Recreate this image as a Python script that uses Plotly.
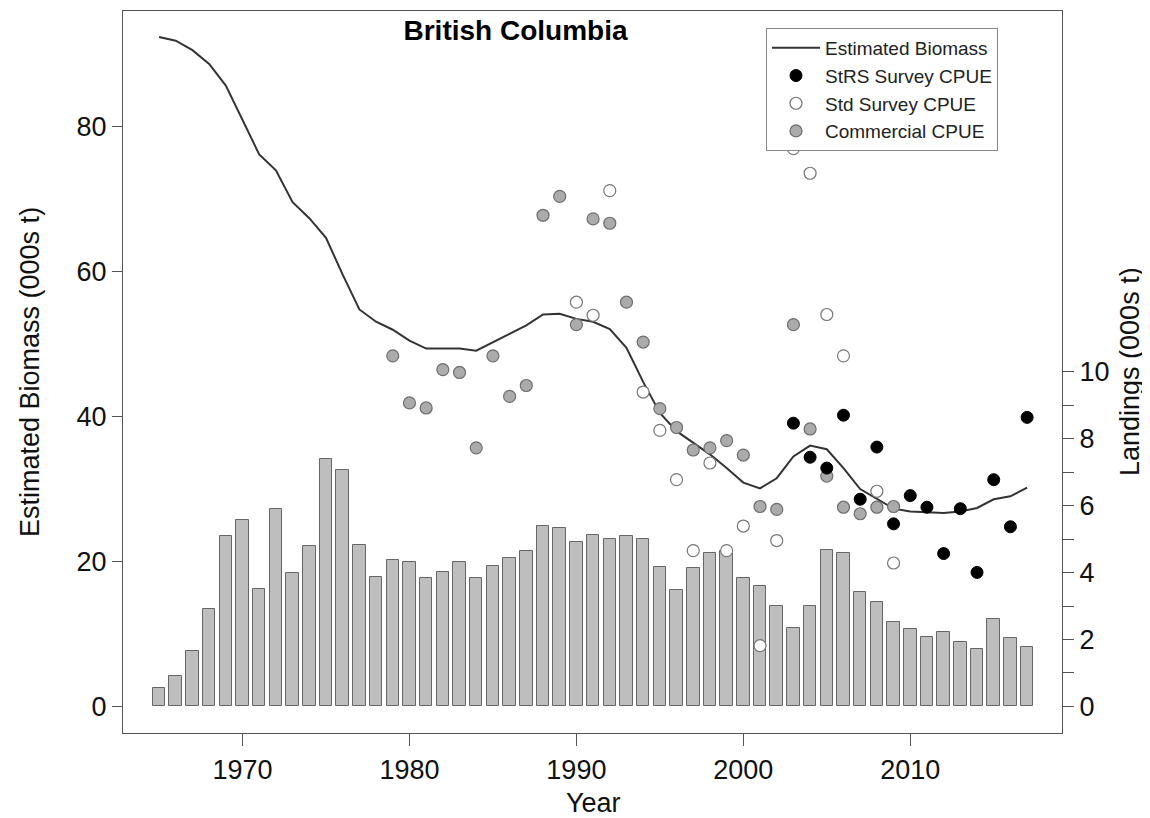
import plotly.graph_objects as go

years = list(range(1965, 2018))
landings = [0.55, 0.90, 1.65, 2.92, 5.08, 5.56, 3.52, 5.91, 3.99, 4.79,
            7.40, 7.07, 4.81, 3.87, 4.38, 4.31, 3.83, 4.03, 4.33, 3.83,
            4.19, 4.45, 4.63, 5.40, 5.33, 4.90, 5.11, 5.00, 5.10, 4.99,
            4.18, 3.47, 4.14, 4.59, 4.64, 3.84, 3.61, 3.01, 2.35, 2.99,
            4.66, 4.58, 3.42, 3.11, 2.53, 2.30, 2.07, 2.21, 1.93, 1.71,
            2.60, 2.03, 1.77]
biomass = [92.4, 91.9, 90.6, 88.7, 85.7, 80.9, 76.2, 74.0, 69.6, 67.4,
           64.7, 59.6, 54.8, 53.1, 52.0, 50.5, 49.4, 49.4, 49.4, 49.1,
           50.3, 51.4, 52.6, 54.1, 54.2, 53.5, 53.1, 52.1, 49.5, 44.8,
           40.5, 38.0, 36.4, 34.8, 32.9, 30.9, 30.1, 31.5, 34.5, 36.0,
           35.5, 32.9, 30.0, 28.6, 27.3, 26.9, 26.8, 26.7, 26.9, 27.4,
           28.6, 29.0, 30.2]

comm_years = list(range(1979, 2010))
comm_cpue = [48.4, 41.9, 41.2, 46.5, 46.1, 35.7, 48.4, 42.8, 44.3, 67.8,
             70.4, 52.7, 67.3, 66.7, 55.8, 50.3, 41.1, 38.5, 35.4, 35.7,
             36.7, 34.7, 27.6, 27.2, 52.7, 38.3, 31.8, 27.5, 26.6, 27.5,
             27.6]

std_years = [1990, 1991, 1992, 1994, 1995, 1996, 1997, 1998, 1999, 2000,
             2001, 2002, 2003, 2004, 2005, 2006, 2008, 2009]
std_cpue = [55.8, 54.0, 71.2, 43.4, 38.1, 31.3, 21.5, 33.6, 21.5, 24.9,
            8.4, 22.9, 77.0, 73.6, 54.1, 48.4, 29.7, 19.8]

strs_years = list(range(2003, 2018))
strs_cpue = [39.1, 34.4, 32.9, 40.2, 28.6, 35.8, 25.2, 29.1, 27.5, 21.1,
             27.3, 18.5, 31.3, 24.8, 39.9]

x_ticks = [1970, 1980, 1990, 2000, 2010]
left_ticks = [0, 20, 40, 60, 80]
right_ticks = list(range(0, 11))
right_labels = [str(v) if v % 2 == 0 else "" for v in right_ticks]

FONT = "Liberation Sans, Arial, sans-serif"
AX = "#555555"

# page has an 8px body margin; figure size compensates
W, H = 1142, 810
PL, PT = 115, 3
PR, PB = 88, 85
plot_w = W - PL - PR
plot_h = H - PT - PB

fig = go.Figure()

fig.add_trace(go.Bar(
    x=years, y=landings, width=0.75, yaxis="y",
    marker=dict(color="#bebebe", line=dict(color="#666666", width=1)),
    showlegend=False, hoverinfo="skip"))

fig.add_trace(go.Scatter(
    x=years, y=biomass, yaxis="y2", mode="lines", name="Estimated Biomass",
    line=dict(color="#333333", width=2), legendrank=1))

fig.add_trace(go.Scatter(
    x=comm_years, y=comm_cpue, yaxis="y2", mode="markers", name="Commercial CPUE",
    marker=dict(size=12, color="#ababab", line=dict(color="#6e6e6e", width=1.2)),
    legendrank=4))

fig.add_trace(go.Scatter(
    x=std_years, y=std_cpue, yaxis="y2", mode="markers", name="Std Survey CPUE",
    marker=dict(size=12, color="white", line=dict(color="#777777", width=1.2)),
    legendrank=3))

fig.add_trace(go.Scatter(
    x=strs_years, y=strs_cpue, yaxis="y2", mode="markers", name="StRS Survey CPUE",
    marker=dict(size=12, color="black", line=dict(color="black", width=1)),
    legendrank=2))

fig.update_layout(
    width=W, height=H,
    margin=dict(l=PL, r=PR, t=PT, b=PB),
    paper_bgcolor="white", plot_bgcolor="white",
    font=dict(family=FONT, size=27, color="#111111"),
    bargap=0,
    title=dict(text="<b>British Columbia</b>", x=0.418, xref="paper", xanchor="center",
               y=1 - 22 / H, yanchor="middle",
               font=dict(family=FONT, size=28, color="black")),
    xaxis=dict(range=[1962.84, 2019.09], tickvals=x_ticks, ticks="outside", ticklen=12,
               tickcolor=AX, showline=True, linecolor=AX, linewidth=1.3, mirror=True,
               showgrid=False, zeroline=False),
    yaxis=dict(range=[-0.794, 20.78], side="right", tickvals=right_ticks, ticktext=right_labels,
               ticks="outside", ticklen=11, tickcolor=AX, showline=True, linecolor=AX,
               linewidth=1.3, mirror=True, showgrid=False, zeroline=False),
    yaxis2=dict(range=[-3.67, 96.0], side="left", overlaying="y", tickvals=left_ticks,
                ticks="outside", ticklen=10, tickcolor=AX, showline=False,
                showgrid=False, zeroline=False),
    legend=dict(x=(766 - 123) / plot_w, xanchor="left", y=1 - (28 - 11) / plot_h, yanchor="top",
                traceorder="normal", bgcolor="white", bordercolor="#888888", borderwidth=1,
                font=dict(family=FONT, size=19, color="#222222"), itemwidth=48),
    showlegend=True,
)

fig.add_annotation(text="Year", xref="paper", yref="paper", x=(593 - 123) / plot_w,
                   y=-(803 - 733) / plot_h, xanchor="center", yanchor="middle",
                   showarrow=False, font=dict(size=27))
fig.add_annotation(text="Estimated Biomass (000s t)", xref="paper", yref="paper",
                   x=-(123 - 30) / plot_w, y=0.5, textangle=-90, xanchor="center",
                   yanchor="middle", showarrow=False, font=dict(size=27))
fig.add_annotation(text="Landings (000s t)", xref="paper", yref="paper",
                   x=1 + (1130 - 1062) / plot_w, y=0.5, textangle=-90, xanchor="center",
                   yanchor="middle", showarrow=False, font=dict(size=27))

fig.write_html("out.html")
